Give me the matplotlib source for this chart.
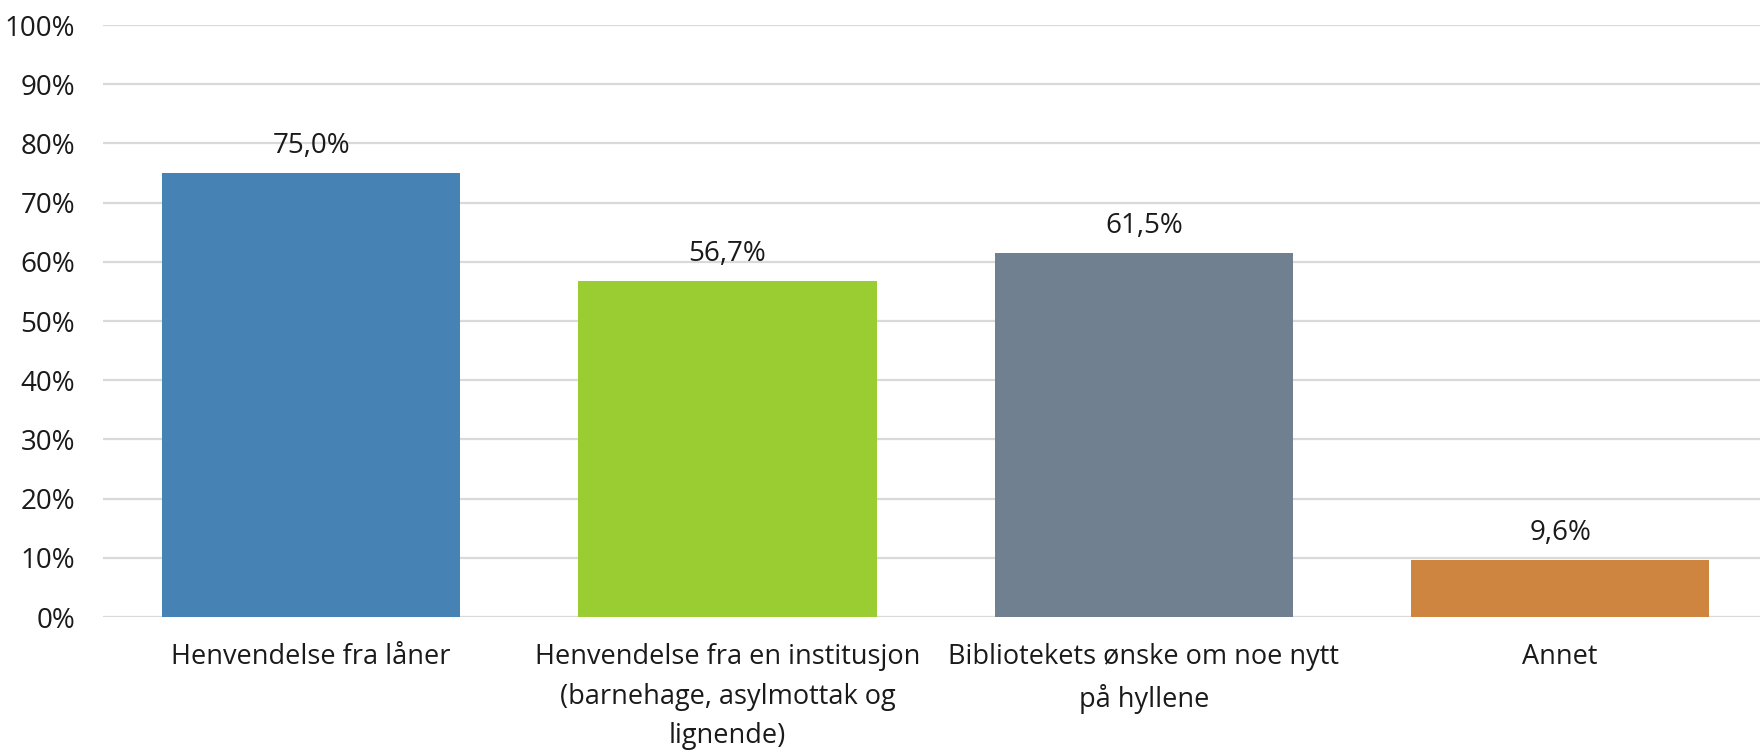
import matplotlib
matplotlib.use("Agg")
import matplotlib.pyplot as plt
from matplotlib.ticker import FuncFormatter

categories = ["Henvendelse fra låner",
              "Henvendelse fra en institusjon\n(barnehage, asylmottak og\nlignende)",
              "Bibliotekets ønske om noe nytt\npå hyllene",
              "Annet"]
values = [75.0, 56.7, 61.5, 9.6]
colors = ["#4682B4", "#9ACD32", "#708090", "#CD853F"]
yticks = [0, 10, 20, 30, 40, 50, 60, 70, 80, 90, 100]

plt.rcParams['font.family'] = ['Open Sans', 'DejaVu Sans']

fig = plt.figure(figsize=(17.6, 7.52), dpi=100)
W, H = 1760, 752
ax = fig.add_axes([103 / W, (H - 617) / H, (1760 - 103) / W, 592 / H])

x = list(range(len(categories)))
bars = ax.bar(x, values, width=0.716, color=colors, zorder=3)
for xi, v in zip(x, values):
    ax.annotate(f"{v:.1f}%".replace(".", ","), (xi, v), xytext=(0, 19.5),
                textcoords="offset points", ha="center", va="center",
                fontsize=20, color="#1a1a1a")

ax.set_xlim(-0.5, 3.48)
ax.set_ylim(0, 100)
ax.set_yticks(yticks)
ax.yaxis.set_major_formatter(FuncFormatter(lambda v, p: f"{int(v)}%"))
ax.grid(axis="y", color="#d9d9d9", linewidth=1.6, zorder=0)
ax.set_xticks(x)
ax.set_xticklabels(categories, fontsize=19.5, color="#1a1a1a", linespacing=1.55, va="top")
ax.tick_params(axis="x", length=0, pad=19)
ax.tick_params(axis="y", length=0, pad=20, labelsize=20, labelcolor="#1a1a1a")
for s in ax.spines.values():
    s.set_visible(False)

fig.savefig("out.png", dpi=100)
